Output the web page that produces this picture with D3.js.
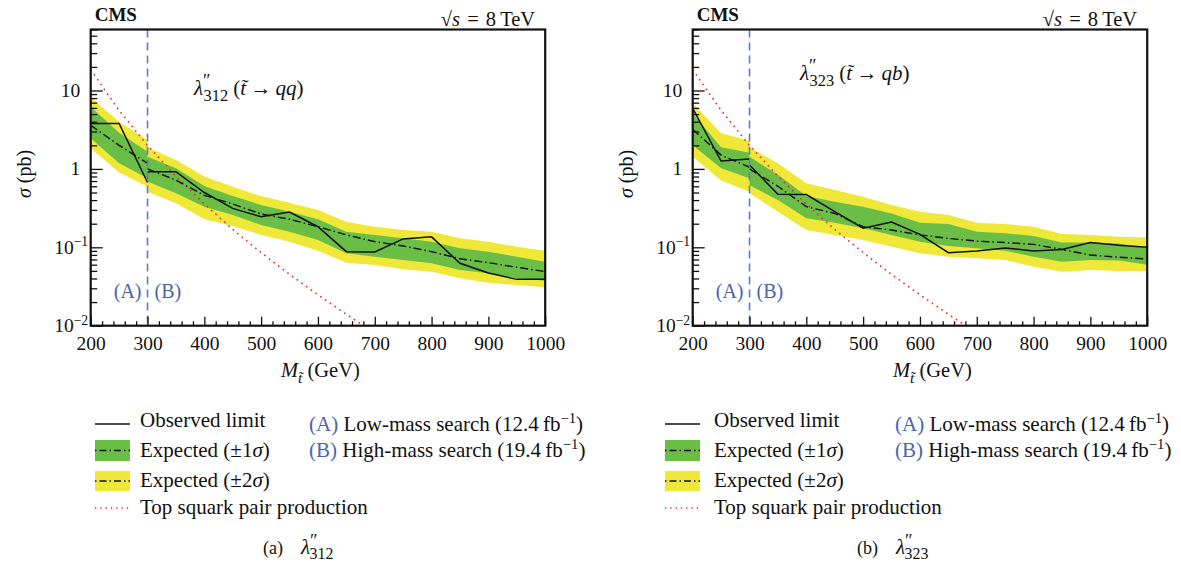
<!DOCTYPE html>
<html>
<head>
<meta charset="utf-8">
<script src="https://cdn.jsdelivr.net/npm/d3@7"></script>
<style>
  body { margin: 0; background: #fff; }
  svg { display: block; }
  text { font-family: "Liberation Serif", "Times New Roman", serif; }
</style>
</head>
<body>
<svg id="vis"></svg>
<script>
const width = 1181;
const height = 567;

// masses: (A) low-mass search up to 300 GeV, (B) high-mass search from 300 GeV
const massA = [200, 250, 300];
const massB = [300, 350, 400, 450, 500, 550, 600, 650, 700, 750, 800, 850, 900, 950, 1000];

// lambda''_312 (t -> qq)
const obs312A = [3.8, 3.8, 0.67];
const obs312B = [0.92, 0.92, 0.50, 0.314, 0.245, 0.282, 0.183, 0.088, 0.087, 0.128, 0.136, 0.0625, 0.047, 0.039, 0.039];
const exp312A = [3.6, 2.0, 1.18];
const exp312B = [1.0, 0.72, 0.46, 0.357, 0.266, 0.228, 0.183, 0.144, 0.118, 0.104, 0.088, 0.0715, 0.0636, 0.0556, 0.0489];
const s1up312A = [6.2, 2.9, 1.66];
const s1dn312A = [2.46, 1.18, 0.76];
const s2up312A = [8.2, 4.0, 2.34];
const s2dn312A = [1.83, 0.9, 0.59];
const s1up312B = [1.43, 1.02, 0.605, 0.45, 0.347, 0.285, 0.228, 0.158, 0.144, 0.130, 0.118, 0.097, 0.088, 0.0759, 0.0655];
const s1dn312B = [0.69, 0.49, 0.33, 0.258, 0.192, 0.158, 0.124, 0.0838, 0.0759, 0.0689, 0.0625, 0.0513, 0.0466, 0.0402, 0.0375];
const s2up312B = [1.89, 1.30, 0.80, 0.59, 0.45, 0.37, 0.299, 0.212, 0.183, 0.166, 0.158, 0.130, 0.118, 0.102, 0.0905];
const s2dn312B = [0.51, 0.364, 0.228, 0.187, 0.144, 0.118, 0.0905, 0.0636, 0.0595, 0.0524, 0.0489, 0.0402, 0.0353, 0.033, 0.0309];

// lambda''_323 (t -> qb)
const obs323A = [5.9, 1.26, 1.34];
const obs323B = [1.12, 0.474, 0.47, 0.285, 0.175, 0.21, 0.146, 0.0853, 0.0897, 0.098, 0.09, 0.094, 0.115, 0.106, 0.10];
const exp323A = [3.2, 1.5, 1.05];
const exp323B = [1.0, 0.6, 0.33, 0.27, 0.183, 0.166, 0.144, 0.130, 0.12, 0.115, 0.109, 0.094, 0.0798, 0.0747, 0.0709];
const s1up323A = [5.1, 1.89, 1.61];
const s1dn323A = [2.0, 1.02, 0.76];
const s2up323A = [6.9, 2.85, 2.29];
const s2dn323A = [1.43, 0.71, 0.51];
const s1up323B = [1.43, 0.84, 0.45, 0.38, 0.33, 0.27, 0.206, 0.198, 0.158, 0.151, 0.139, 0.115, 0.115, 0.112, 0.097];
const s1dn323B = [0.62, 0.40, 0.235, 0.206, 0.175, 0.144, 0.118, 0.104, 0.097, 0.0905, 0.0759, 0.0655, 0.0689, 0.068, 0.06];
const s2up323B = [1.89, 1.18, 0.655, 0.54, 0.44, 0.347, 0.285, 0.258, 0.206, 0.198, 0.183, 0.148, 0.144, 0.136, 0.133];
const s2dn323B = [0.49, 0.285, 0.166, 0.144, 0.124, 0.102, 0.0838, 0.0759, 0.0724, 0.0689, 0.0566, 0.0489, 0.0513, 0.050, 0.050];

// top squark pair production cross section
const stopMass = [200, 250, 300, 350, 400, 450, 500, 550, 600, 650, 700];
const stopXsec = [18.5, 5.57, 1.99, 0.807, 0.357, 0.169, 0.0856, 0.0452, 0.0248, 0.0140, 0.0081];

// axes
const xMajor = [200, 300, 400, 500, 600, 700, 800, 900, 1000];
const yTickVals = [0.01, 0.1, 1, 10];
const yTickBase = ["10", "10", "1", "10"];
const yTickExp = ["\u22122", "\u22121", "", ""];

const green = "#6abd45";
const yellow = "#efe838";
const red = "#ee2a2a";
const blue = "#5b7fc4";
const blueText = "#4a64ad";

const yTop = 29.5, yBot = 325.7, plotW = 454.5;

let svg = d3.select("#vis")
    .attr("width", width)
    .attr("height", height);

//helper for text with italics, sub- and superscripts
function rich(g, x, y, parts, size, anchor) {
    let t = g.append("text")
        .attr("x", x)
        .attr("y", y)
        .attr("font-size", size)
        .attr("text-anchor", anchor || "start")
        .style("fill", "#111");
    let shift = 0;
    parts.forEach(p => {
        const target = p.sup ? -0.38 * size : p.sub ? 0.3 * size : 0;
        let ts = t.append("tspan").text(p.t).attr("dy", target - shift);
        shift = target;
        if (p.dx) ts.attr("dx", p.dx);
        if (p.sup || p.sub) ts.attr("font-size", size * (p.scale || 0.7));
        if (p.size) ts.attr("font-size", p.size);
        if (p.i) ts.attr("font-style", "italic");
        if (p.b) ts.attr("font-weight", "bold");
        if (p.fill) ts.style("fill", p.fill);
    });
    return t;
}

const panels = [
    {
        id: "a", left: 90.7, sub: "312", prod: "qq",
        obsA: obs312A, obsB: obs312B, expA: exp312A, expB: exp312B,
        s1upA: s1up312A, s1dnA: s1dn312A, s2upA: s2up312A, s2dnA: s2dn312A,
        s1upB: s1up312B, s1dnB: s1dn312B, s2upB: s2up312B, s2dnB: s2dn312B,
        annX: 194, annY: 95, titleX: 281, legX: 95, legTextX: 140, legABX: 309, capX: 263
    },
    {
        id: "b", left: 692.7, sub: "323", prod: "qb",
        obsA: obs323A, obsB: obs323B, expA: exp323A, expB: exp323B,
        s1upA: s1up323A, s1dnA: s1dn323A, s2upA: s2up323A, s2dnA: s2dn323A,
        s1upB: s1up323B, s1dnB: s1dn323B, s2upB: s2up323B, s2dnB: s2dn323B,
        annX: 800, annY: 80, titleX: 893, legX: 665, legTextX: 714, legABX: 895, capX: 857
    }
];

function drawPanel(p) {
    let g = svg.append("g");
    const left = p.left, right = p.left + plotW;

    let xScale = d3.scaleLinear().domain([200, 1000]).range([left, right]);
    let yScale = d3.scaleLog().domain([0.01, 60]).range([yBot, yTop]);

    g.append("clipPath").attr("id", "clip-" + p.id)
        .append("rect")
        .attr("x", left).attr("y", yTop)
        .attr("width", plotW).attr("height", yBot - yTop);

    let plot = g.append("g").attr("clip-path", "url(#clip-" + p.id + ")");

    const band = (mass, up, dn) => d3.area()
        .x((d, i) => xScale(mass[i]))
        .y0((d, i) => yScale(dn[i]))
        .y1((d, i) => yScale(up[i]))(mass);
    const line = (mass, vals) => d3.line()
        .x((d, i) => xScale(mass[i]))
        .y((d, i) => yScale(vals[i]))(mass);

    //bands
    plot.append("path").attr("d", band(massA, p.s2upA, p.s2dnA)).attr("fill", yellow);
    plot.append("path").attr("d", band(massB, p.s2upB, p.s2dnB)).attr("fill", yellow);
    plot.append("path").attr("d", band(massA, p.s1upA, p.s1dnA)).attr("fill", green);
    plot.append("path").attr("d", band(massB, p.s1upB, p.s1dnB)).attr("fill", green);

    //theory
    plot.append("path").attr("d", line(stopMass, stopXsec))
        .attr("fill", "none").attr("stroke", red)
        .attr("stroke-width", 1.6).attr("stroke-dasharray", "1.6,4.2");

    //expected
    [[massA, p.expA], [massB, p.expB]].forEach(s => {
        plot.append("path").attr("d", line(s[0], s[1]))
            .attr("fill", "none").attr("stroke", "#111")
            .attr("stroke-width", 1.4).attr("stroke-dasharray", "8,3,1.5,3");
    });

    //observed
    [[massA, p.obsA], [massB, p.obsB]].forEach(s => {
        plot.append("path").attr("d", line(s[0], s[1]))
            .attr("fill", "none").attr("stroke", "#111")
            .attr("stroke-width", 1.5);
    });

    //search boundary
    g.append("line")
        .attr("x1", xScale(300)).attr("x2", xScale(300))
        .attr("y1", yTop).attr("y2", yBot)
        .attr("stroke", blue).attr("stroke-width", 1.6)
        .attr("stroke-dasharray", "8,5");

    rich(g, xScale(300) - 6, 298, [{ t: "(A)", fill: blueText }], 20, "end");
    rich(g, xScale(300) + 7, 298, [{ t: "(B)", fill: blueText }], 20, "start");

    //axes ticks (inward)
    const styleAxis = a => {
        a.select(".domain").remove();
        a.selectAll("line").attr("stroke", "#111").attr("stroke-width", 1.3);
        a.attr("font-family", null).attr("font-size", null);
    };

    g.append("g").attr("transform", "translate(0," + yBot + ")")
        .call(d3.axisBottom(xScale).tickValues(d3.range(200, 1001, 20).filter(v => v % 100 !== 0))
            .tickSize(-4.5).tickFormat(""))
        .call(styleAxis);

    let xAxis = g.append("g").attr("transform", "translate(0," + yBot + ")")
        .call(d3.axisBottom(xScale).tickValues(xMajor).tickSize(-9).tickPadding(10).tickFormat(d3.format("d")))
        .call(styleAxis);
    xAxis.selectAll("text").attr("font-size", 19.5).style("fill", "#111");

    let yMinor = [];
    yTickVals.forEach(d => {
        for (let k = 2; k <= 9; k++) if (k * d <= 60) yMinor.push(k * d);
    });
    g.append("g").attr("transform", "translate(" + left + ",0)")
        .call(d3.axisLeft(yScale).tickValues(yMinor).tickSize(-6.5).tickFormat(""))
        .call(styleAxis);
    g.append("g").attr("transform", "translate(" + left + ",0)")
        .call(d3.axisLeft(yScale).tickValues(yTickVals).tickSize(-12).tickFormat(""))
        .call(styleAxis);

    yTickVals.forEach((v, i) => {
        const parts = [{ t: yTickBase[i] }];
        if (yTickExp[i]) parts.push({ t: yTickExp[i], sup: true });
        rich(g, left - (yTickExp[i] ? 2.5 : 10.5), yScale(v) + 6.5, parts, 19.5, "end");
    });

    //frame
    g.append("rect")
        .attr("x", left).attr("y", yTop)
        .attr("width", plotW).attr("height", yBot - yTop)
        .attr("fill", "none").attr("stroke", "#111").attr("stroke-width", 2.2);

    //axis titles
    rich(g, 0, 0, [{ t: "\u03C3", i: true }, { t: " (pb)" }], 20, "middle")
        .attr("transform", "translate(" + (left - 60) + ",174) rotate(-90)");
    rich(g, p.titleX, 377, [{ t: "M", i: true }, { t: "t\u0303", i: true, sub: true, scale: 0.75 }, { t: " (GeV)" }], 20.5);

    //header texts
    rich(g, left + 4, 21, [{ t: "CMS", b: true }], 19);
    rich(g, right - 10, 26, [{ t: "\u221A" }, { t: "s", i: true }, { t: " = 8\u2009TeV" }], 20.5, "end")
        .attr("word-spacing", 2);

    rich(g, p.annX, p.annY, [
        { t: "\u03BB", i: true },
        { t: "\u2033", sup: true, scale: 0.85 },
        { t: p.sub, sub: true, dx: -7, scale: 0.78 },
        { t: " (" },
        { t: "t\u0303", i: true },
        { t: "\u2009\u2192\u2009" },
        { t: p.prod, i: true },
        { t: ")" }
    ], 21);

    //legend
    const lx = p.legX;
    let leg = svg.append("g");
    leg.append("line").attr("x1", lx).attr("x2", lx + 35).attr("y1", 424).attr("y2", 424)
        .attr("stroke", "#111").attr("stroke-width", 1.5);
    leg.append("rect").attr("x", lx).attr("y", 440).attr("width", 35).attr("height", 21).attr("fill", green);
    leg.append("rect").attr("x", lx).attr("y", 471).attr("width", 35).attr("height", 20).attr("fill", yellow);
    [450.5, 481].forEach(yy => {
        leg.append("line").attr("x1", lx).attr("x2", lx + 35).attr("y1", yy).attr("y2", yy)
            .attr("stroke", "#111").attr("stroke-width", 1.3).attr("stroke-dasharray", "1.5,3,7,3");
    });
    leg.append("line").attr("x1", lx).attr("x2", lx + 37).attr("y1", 508).attr("y2", 508)
        .attr("stroke", red).attr("stroke-width", 1.3).attr("stroke-dasharray", "1.3,4");

    const fs = 21;
    rich(leg, p.legTextX, 427, [{ t: "Observed limit" }], fs);
    rich(leg, p.legTextX, 457, [{ t: "Expected (\u00B11" }, { t: "\u03C3", i: true }, { t: ")" }], fs);
    rich(leg, p.legTextX, 487, [{ t: "Expected (\u00B12" }, { t: "\u03C3", i: true }, { t: ")" }], fs);
    rich(leg, p.legTextX, 514, [{ t: "Top squark pair production" }], fs);

    rich(leg, p.legABX, 431, [
        { t: "(A)", fill: blueText }, { t: " Low-mass search (12.4\u2009fb" },
        { t: "\u22121", sup: true }, { t: ")" }
    ], fs);
    rich(leg, p.legABX, 457, [
        { t: "(B)", fill: blueText }, { t: " High-mass search (19.4\u2009fb" },
        { t: "\u22121", sup: true }, { t: ")" }
    ], fs);

    //caption
    rich(leg, p.capX, 554, [
        { t: "(" + p.id + ")\u2002\u2002" },
        { t: "\u03BB", i: true, size: 21 },
        { t: "\u2033", sup: true, scale: 1.0 },
        { t: p.sub, sub: true, dx: -8, scale: 0.88 }
    ], 18);
}

panels.forEach(drawPanel);
</script>
</body>
</html>
